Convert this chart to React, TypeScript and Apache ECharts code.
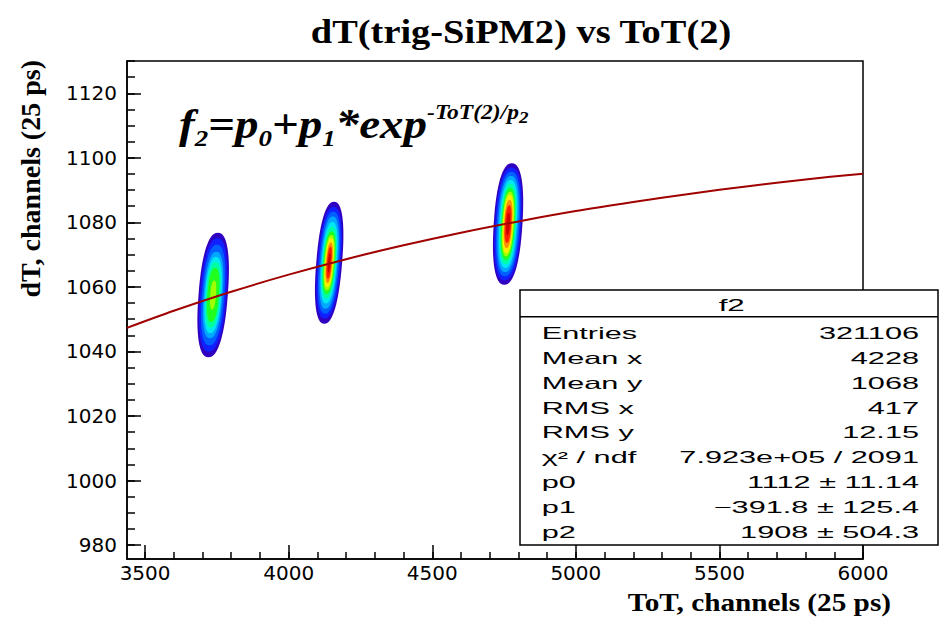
import React, { useEffect, useRef } from "react";
import * as echarts from "echarts";

// ---- axes ----
const X_MIN = 3437;
const X_MAX = 6000;
const Y_MIN = 975.7;
const Y_MAX = 1130;
const xLabelTicks = [3500, 4000, 4500, 5000, 5500, 6000];
const yLabelTicks = [980, 1000, 1020, 1040, 1060, 1080, 1100, 1120];
const xMinorStep = 100;
const yMinorStep = 5;

// ---- fitted curve f2 ----
const fitX = [3437, 3600, 3800, 4000, 4200, 4400, 4600, 4800, 5000, 5200, 5400, 5600, 5800, 6000];
const fitY = [1047.3, 1052.6, 1058.5, 1063.8, 1068.6, 1072.9, 1076.8, 1080.3, 1083.5, 1086.3, 1088.9, 1091.2, 1093.3, 1095.1];

// ---- 2D histogram clusters: centre (x,y), tilt (dx per dy) ----
const blobX = [3737, 4141, 4764];
const blobY = [1057.5, 1067.5, 1079.5];
const blobTilt = [0.85, 0.9, 0.7];
// contour rings: [half width x, half height y, colour level]
const blob1Rings = [
  [51, 19.3, 0], [45, 17.6, 1], [39, 15.6, 2], [33, 13.4, 3], [28.5, 11.8, 4],
  [24.5, 10.2, 5], [20, 8.4, 6], [10, 4.5, 7],
];
const blob2Rings = [
  [45, 18.9, 0], [40, 17.3, 1], [35, 15.8, 2], [30, 14.3, 3], [26, 12.6, 4],
  [23, 11.1, 5], [20, 9.7, 6], [17, 8.6, 7], [14, 7.6, 8], [11, 6.3, 9], [8, 5, 10], [4, 3, 11],
];
const blob3Rings = [
  [50, 18.8, 0], [45, 17.5, 1], [40, 16.2, 2], [35, 14.9, 3], [30, 13.6, 4], [27, 12.4, 5],
  [23, 11.1, 6], [20, 10, 7], [17, 9, 8], [14, 7.5, 9], [11, 5.8, 10], [6, 3.5, 11],
];
const levelColors = [
  "#3000c0", "#1020ff", "#0060ff", "#00a8ff", "#00e8f0", "#00ffa0",
  "#20ff20", "#a0ff00", "#ffee00", "#ff9000", "#ff2000", "#cc0000",
];

// ---- stats box ----
const statsTitle = "f2";
const statsLabels = ["Entries", "Mean x", "Mean y", "RMS x", "RMS y", "\u03c7\u00b2 / ndf", "p0", "p1", "p2"];
const statsValues = [
  "321106", "4228", "1068", "417", "12.15", "7.923e+05 / 2091",
  "1112 \u00b1 11.14", "\u2212391.8 \u00b1 125.4", "1908 \u00b1 504.3",
];

const titleText = "dT(trig-SiPM2) vs ToT(2)";
const xName = "ToT, channels (25 ps)";
const yName = "dT, channels (25 ps)";

function range(a: number, b: number, step: number) {
  const out: number[] = [];
  for (let v = a; v <= b + 1e-9; v += step) out.push(Math.round(v * 1000) / 1000);
  return out;
}

const blobRings = [blob1Rings, blob2Rings, blob3Rings];
const blobRows: number[][] = [];
blobRings.forEach((rings, b) => {
  rings.forEach((r) => blobRows.push([blobX[b], blobY[b], r[0], r[1], blobTilt[b], r[2]]));
});

const SERIF = '"Liberation Serif", "Times New Roman", serif';
const SANS = '"Liberation Sans", Arial, sans-serif';

function txt(text: string, x: number, y: number, opts: any = {}) {
  const align = opts.align || "left";
  return {
    type: "text",
    x,
    y,
    z: opts.z ?? 50,
    scaleX: opts.scaleX ?? 1,
    rotation: opts.rotation ?? 0,
    silent: true,
    style: {
      text,
      fontFamily: opts.family || SERIF,
      fontSize: opts.size || 20,
      fontWeight: opts.weight || "normal",
      fontStyle: opts.style || "normal",
      fill: "#000",
      textAlign: align,
      align,
      textVerticalAlign: "middle",
      verticalAlign: "middle",
      rich: opts.rich,
    },
  };
}

function richTok(size: number, pad: number[]) {
  return {
    fontFamily: SERIF,
    fontSize: size,
    lineHeight: size,
    fontWeight: "bold",
    fontStyle: "italic",
    fill: "#000",
    color: "#000",
    verticalAlign: "middle",
    padding: pad,
  };
}

function buildOption() {
  const fitData = fitX.map((x, i) => [x, fitY[i]]);
  const labelStyle = { fontFamily: '"DejaVu Sans"', fontSize: 20, color: "#000" };
  const fmt = (v: number) => String(Math.round(v));

  const graphics: any[] = [];
  // title
  graphics.push(txt(titleText, 521, 32, { size: 34, weight: "bold", align: "center", scaleX: 1.13 }));
  // axis names
  graphics.push(txt(xName, 891, 603, { size: 25, weight: "bold", align: "right", scaleX: 1.17 }));
  graphics.push(txt(yName, 30, 60, { size: 28, weight: "bold", align: "right", rotation: Math.PI / 2 }));
  // formula (one rich text)
  graphics.push(
    txt("{m|f}{b|2}{m|=p}{b|0}{m|+p}{b|1}{m|*exp}{u|-ToT(2)/p}{v|2}", 179, 124, {
      size: 42,
      weight: "bold",
      style: "italic",
      scaleX: 1.12,
      rich: {
        m: richTok(42, [0, 0, 0, 0]),
        b: richTok(24, [28, 0, 0, 0]),
        u: richTok(21, [0, 0, 24, 0]),
        v: richTok(17, [0, 0, 14, 0]),
      },
    })
  );

  // stats box
  graphics.push({
    type: "rect",
    z: 100,
    silent: true,
    shape: { x: 520, y: 290, width: 418, height: 255 },
    style: { fill: "#fff", stroke: "#000", lineWidth: 1.5 },
  });
  graphics.push({
    type: "line",
    z: 101,
    silent: true,
    shape: { x1: 520, y1: 316.7, x2: 938, y2: 316.7 },
    style: { stroke: "#000", lineWidth: 1.5 },
  });
  graphics.push(txt(statsTitle, 731.7, 305, { family: SANS, size: 16.5, align: "center", scaleX: 1.9, z: 102 }));
  statsLabels.forEach((l, i) => {
    const y = 333.5 + 24.8 * i;
    graphics.push(txt(l, 541.7, y, { family: SANS, size: 16.5, align: "left", scaleX: 1.86, z: 102 }));
    graphics.push(txt(statsValues[i], 919, y, { family: SANS, size: 16.5, align: "right", scaleX: 1.86, z: 102 }));
  });

  const tickLine = { color: "#000", width: 1.5 };

  return {
    animation: false,
    backgroundColor: "#fff",
    grid: {
      left: 127,
      top: 61,
      width: 736,
      height: 498,
      show: true,
      borderColor: "#000",
      borderWidth: 1.5,
      backgroundColor: "transparent",
    },
    xAxis: [
      {
        type: "value",
        min: X_MIN,
        max: X_MAX,
        position: "bottom",
        axisLine: { show: true, onZero: false, lineStyle: tickLine },
        axisTick: { show: true, inside: true, length: 14, customValues: xLabelTicks, lineStyle: tickLine },
        axisLabel: { show: true, customValues: xLabelTicks, margin: 4, formatter: fmt, ...labelStyle },
        splitLine: { show: false },
      },
      {
        type: "value",
        min: X_MIN,
        max: X_MAX,
        position: "bottom",
        axisLine: { show: false },
        axisTick: { show: true, inside: true, length: 7, customValues: range(3500, X_MAX, xMinorStep), lineStyle: tickLine },
        axisLabel: { show: false },
        splitLine: { show: false },
      },
    ],
    yAxis: [
      {
        type: "value",
        min: Y_MIN,
        max: Y_MAX,
        position: "left",
        axisLine: { show: true, onZero: false, lineStyle: tickLine },
        axisTick: { show: true, inside: true, length: 14, customValues: yLabelTicks, lineStyle: tickLine },
        axisLabel: { show: true, customValues: yLabelTicks, margin: 10, formatter: fmt, ...labelStyle },
        splitLine: { show: false },
      },
      {
        type: "value",
        min: Y_MIN,
        max: Y_MAX,
        position: "left",
        axisLine: { show: false },
        axisTick: { show: true, inside: true, length: 8, customValues: range(980, 1130, yMinorStep), lineStyle: tickLine },
        axisLabel: { show: false },
        splitLine: { show: false },
      },
    ],
    series: [
      {
        type: "custom",
        name: "dT vs ToT",
        xAxisIndex: 0,
        yAxisIndex: 0,
        silent: true,
        clip: true,
        z: 2,
        encode: { x: 0, y: 1 },
        data: blobRows,
        renderItem: (_params: any, api: any) => {
          const cx = api.value(0);
          const cy = api.value(1);
          const hx = api.value(2);
          const hy = api.value(3);
          const tilt = api.value(4);
          const lvl = api.value(5);
          const pts: number[][] = [];
          const n = 64;
          for (let k = 0; k < n; k++) {
            const t = (k / n) * Math.PI * 2;
            const c = Math.cos(t);
            const s = Math.sin(t);
            // slightly fuller than an ellipse (rounder ends)
            const cc = Math.sign(c) * Math.pow(Math.abs(c), 0.85);
            const ss = Math.sign(s) * Math.pow(Math.abs(s), 0.85);
            const dx = hx * cc + tilt * hy * ss;
            const dy = hy * ss;
            pts.push(api.coord([cx + dx, cy + dy]));
          }
          return {
            type: "polygon",
            shape: { points: pts },
            style: { fill: levelColors[lvl], stroke: null },
          };
        },
      },
      {
        type: "line",
        name: "f2",
        xAxisIndex: 0,
        yAxisIndex: 0,
        data: fitData,
        smooth: 0.3,
        symbol: "none",
        showSymbol: false,
        clip: true,
        z: 5,
        lineStyle: { color: "#a00000", width: 2 },
      },
    ],
    graphic: { elements: graphics },
  };
}

export default function App() {
  const ref = useRef<HTMLDivElement>(null);
  useEffect(() => {
    if (!ref.current) return;
    const chart = echarts.init(ref.current, null, { renderer: "svg", width: 939, height: 622 });
    chart.setOption(buildOption() as any);
    return () => chart.dispose();
  }, []);
  return (
    <div
      ref={ref}
      style={{ position: "fixed", left: 0, top: 0, width: 939, height: 622, background: "#fff" }}
    />
  );
}
